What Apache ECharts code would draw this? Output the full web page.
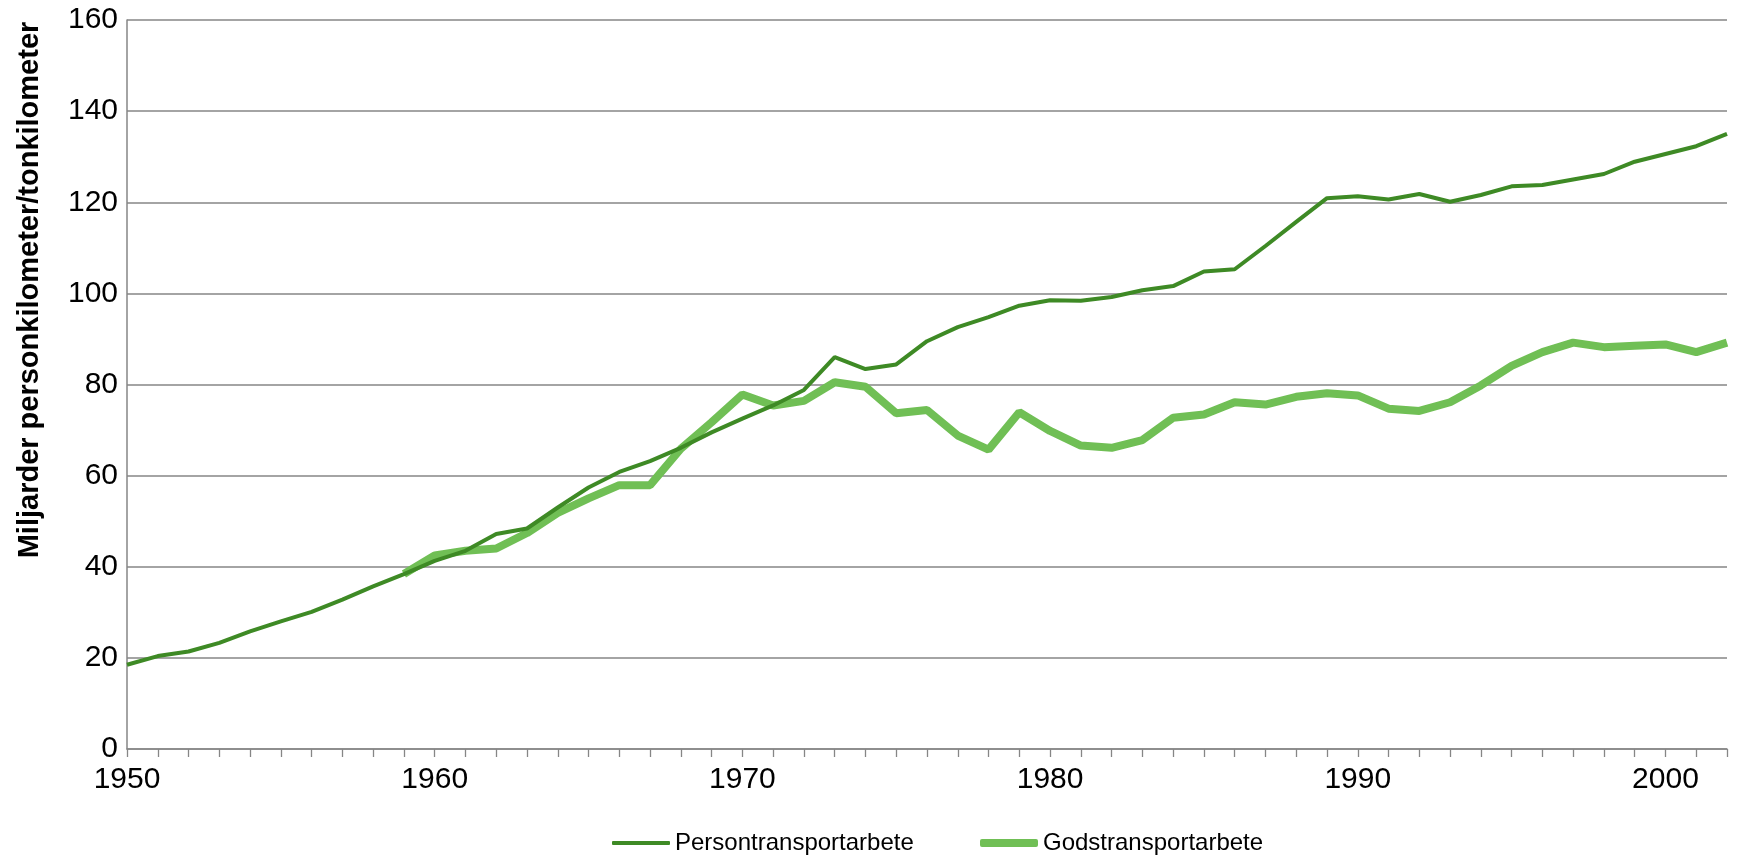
<!DOCTYPE html>
<html>
<head>
<meta charset="utf-8">
<script src="https://cdn.jsdelivr.net/npm/echarts@6/dist/echarts.min.js"></script>
<style>
  html, body { margin: 0; padding: 0; background: #fff; }
  #main { width: 1738px; height: 859px; }
</style>
</head>
<body>
<div id="main"></div>
<script>
var years = [];
for (var y = 1950; y <= 2002; y++) { years.push(String(y)); }

// Persontransportarbete, 1950-2002
var personValues = [
  18.5, 20.4, 21.4, 23.3, 25.8, 28.0, 30.1, 32.8, 35.7, 38.4,
  41.3, 43.5, 47.2, 48.4, 53.0, 57.4, 60.8, 63.2, 66.1, 69.5,
  72.5, 75.4, 78.8, 86.0, 83.4, 84.4, 89.5, 92.6, 94.8, 97.3,
  98.5, 98.4, 99.2, 100.7, 101.6, 104.8, 105.3, 110.4, 115.7, 120.9,
  121.3, 120.6, 121.8, 120.1, 121.6, 123.5, 123.8, 125.0, 126.2, 128.9,
  130.6, 132.3, 135.0
];

// Godstransportarbete, starts 1959
var godsValues = [
  null, null, null, null, null, null, null, null, null, 38.4,
  42.5, 43.5, 44.0, 47.4, 51.8, 55.0, 57.9, 57.9, 65.9, 71.7,
  77.8, 75.4, 76.4, 80.5, 79.5, 73.7, 74.4, 68.8, 65.7, 73.9,
  69.8, 66.6, 66.1, 67.8, 72.7, 73.4, 76.1, 75.6, 77.3, 78.1,
  77.6, 74.7, 74.2, 76.1, 79.8, 84.1, 87.1, 89.2, 88.2, 88.5,
  88.8, 87.1, 89.2
];

var seriesNames = ['Persontransportarbete', 'Godstransportarbete'];
var yTitle = 'Miljarder personkilometer/tonkilometer';

var chartDom = document.getElementById('main');
var myChart = echarts.init(chartDom);

var font = '"Liberation Sans", Arial, sans-serif';
var gray = '#868686';
var personColor = '#3e8a25';
var godsColor = '#70bf55';

var legendText = { fontFamily: font, fontSize: 24, color: '#000' };

var option = {
  animation: false,
  grid: { left: 127, right: 11, top: 20, bottom: 110, containLabel: false },
  legend: [
    {
      data: [seriesNames[0]],
      left: 607,
      top: 826,
      icon: 'roundRect',
      itemWidth: 58,
      itemHeight: 4,
      textStyle: legendText
    },
    {
      data: [seriesNames[1]],
      left: 975,
      top: 826,
      icon: 'roundRect',
      itemWidth: 58,
      itemHeight: 8,
      textStyle: legendText
    }
  ],
  graphic: [{
    type: 'text',
    x: 30,
    y: 290,
    rotation: Math.PI / 2,
    style: {
      text: yTitle,
      fontFamily: font,
      fontSize: 29,
      fontWeight: 'bold',
      fill: '#000',
      textAlign: 'center',
      textVerticalAlign: 'middle'
    }
  }],
  xAxis: {
    type: 'category',
    data: years,
    boundaryGap: false,
    axisLine: { lineStyle: { color: gray, width: 1.5 } },
    axisTick: { interval: 0, length: 8, lineStyle: { color: gray, width: 1.3 } },
    axisLabel: {
      interval: function (i, v) { return Number(v) % 10 === 0; },
      fontFamily: font,
      fontSize: 30,
      color: '#000',
      margin: 16
    },
    splitLine: { show: false }
  },
  yAxis: {
    type: 'value',
    min: 0,
    max: 160,
    interval: 20,
    axisLine: { show: true, lineStyle: { color: gray, width: 1.5 } },
    axisTick: { show: false },
    axisLabel: { fontFamily: font, fontSize: 30, color: '#000', margin: 9 },
    splitLine: { lineStyle: { color: gray, width: 1.5 } }
  },
  series: [
    {
      name: seriesNames[0],
      type: 'line',
      data: personValues,
      symbol: 'none',
      z: 3,
      lineStyle: { color: personColor, width: 4 },
      itemStyle: { color: personColor }
    },
    {
      name: seriesNames[1],
      type: 'line',
      data: godsValues,
      symbol: 'none',
      z: 2,
      lineStyle: { color: godsColor, width: 8 },
      itemStyle: { color: godsColor }
    }
  ]
};

myChart.setOption(option);
</script>
</body>
</html>
